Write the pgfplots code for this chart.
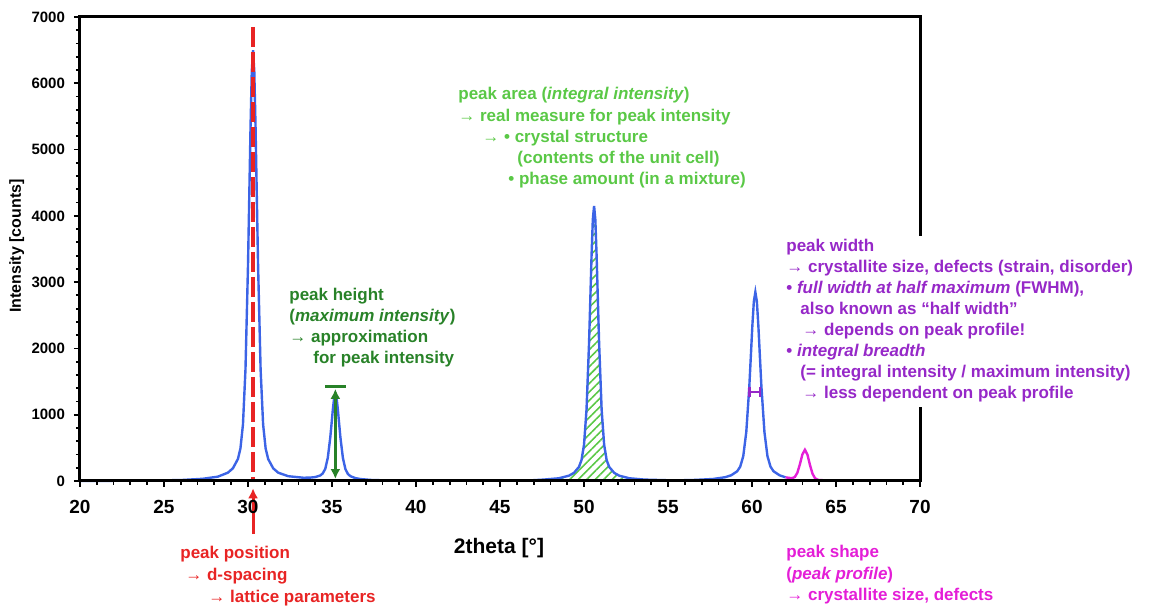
\documentclass[border=0pt]{standalone}
\usepackage{fontspec}
\setmainfont{Liberation Sans}
\usepackage{pgfplots}
\pgfplotsset{compat=1.18}
\usetikzlibrary{patterns.meta,arrows.meta}

\definecolor{cblue}{RGB}{60,100,230}
\definecolor{cred}{RGB}{232,36,36}
\definecolor{cdg}{RGB}{40,130,40}
\definecolor{clg}{RGB}{90,200,70}
\definecolor{cpu}{RGB}{150,40,200}
\definecolor{cmg}{RGB}{228,30,215}

\newcommand{\ft}{\bfseries\fontsize{8.5}{10}\selectfont}

\begin{document}
\begin{tikzpicture}
\begin{axis}[name=ax, scale only axis, width=420pt, height=232pt,
 xmin=20, xmax=70, ymin=0, ymax=7000,
 xtick={20,25,...,70}, ytick={0,1000,...,7000},
 minor x tick num=4, minor y tick num=4,
 tick align=outside, xtick pos=bottom, ytick pos=left,
 major tick length=3pt, minor tick length=2pt,
 every tick/.style={black, line width=0.9pt},
 axis line style={line width=1.5pt},
 /pgf/number format/assume math mode=true,
 /pgf/number format/1000 sep={},
 xticklabel style={font=\bfseries\fontsize{9.5}{10}\selectfont, yshift=-3pt},
 yticklabel style={font=\bfseries\fontsize{7.5}{9}\selectfont, xshift=-1pt},
 clip=false, axis on top]

% hatched integral area of the peak at 50.6
\addplot[draw=none, pattern={Lines[angle=45,distance=3pt,line width=0.8pt]}, pattern color=clg] coordinates {
(48.50,41) (49.10,80) (49.40,122) (49.70,212) (49.85,314) (50.00,544) (50.15,1075) (50.30,2075)
(50.375,2735) (50.45,3403) (50.525,3943) (50.60,4150) (50.675,3943) (50.75,3403) (50.825,2735)
(50.90,2075) (51.05,1075) (51.20,544) (51.35,314) (51.50,212) (51.80,122) (52.10,80) (52.70,41)
} \closedcycle;

% measured pattern
\addplot[cblue, line width=1.2pt] coordinates {
(20,0) (24,6) (26,14) (27.30,33) (28.20,65) (28.80,125) (29.10,191) (29.40,332) (29.55,491)
(29.70,852) (29.85,1684) (30.00,3250) (30.075,4284) (30.15,5330) (30.225,6175) (30.30,6500)
(30.375,6175) (30.45,5330) (30.525,4284) (30.60,3250) (30.75,1684) (30.90,852) (31.05,491)
(31.20,332) (31.50,191) (31.80,125) (32.40,72) (33.30,49)
(33.70,51) (34.00,59) (34.30,83) (34.45,114) (34.60,184) (34.75,350) (34.90,662) (34.975,868)
(35.05,1077) (35.125,1245) (35.20,1310) (35.275,1245) (35.35,1075) (35.425,866) (35.50,659)
(35.65,346) (35.80,178) (35.95,105) (36.10,72) (36.40,43) (36.70,29) (37.30,16) (38.20,9)
(40,5) (44,4) (46,7) (47,12)
(47.60,21) (48.50,41) (49.10,80) (49.40,122) (49.70,212) (49.85,314) (50.00,544) (50.15,1075)
(50.30,2075) (50.375,2735) (50.45,3403) (50.525,3943) (50.60,4150) (50.675,3943) (50.75,3403)
(50.825,2735) (50.90,2075) (51.05,1075) (51.20,544) (51.35,314) (51.50,212) (51.80,122)
(52.10,80) (52.70,41) (53.60,21) (55,11) (56,12)
(56.60,16) (57.68,30) (58.40,57) (58.76,86) (59.12,147) (59.30,217) (59.48,375) (59.66,740)
(59.84,1425) (59.93,1878) (60.02,2337) (60.11,2708) (60.20,2850) (60.29,2708) (60.38,2337)
(60.47,1878) (60.56,1425) (60.74,740) (60.92,375) (61.10,217) (61.28,147) (61.64,86)
(62.00,55)
};

% peak shape (magenta)
\addplot[cmg, line width=1.2pt] coordinates {
(62.00,55) (62.25,46) (62.40,43) (62.55,61) (62.70,124) (62.85,251) (63.00,401) (63.15,471)
(63.30,397) (63.45,242) (63.60,111) (63.75,43) (63.90,19) (64.05,13) (64.50,10)
};

% peak position
\addplot[cred, line width=2pt, dash pattern=on 10pt off 2.5pt] coordinates {(30.3,6850) (30.3,0)};
\draw[cred, line width=1.5pt, -{Latex[length=5pt,width=5pt]}] (axis cs:30.3,-800) -- (axis cs:30.3,-110);

% peak height
\addplot[cdg, line width=1.5pt] coordinates {(34.6,1420) (35.85,1420)};
\addplot[cdg, line width=1.5pt, {Latex[length=5pt,width=5pt]}-{Latex[length=5pt,width=5pt]}] coordinates {(35.2,1390) (35.2,30)};

% FWHM
\addplot[cpu, line width=1.2pt, {Bar[width=5pt]}-{Bar[width=5pt]}] coordinates {(59.78,1340) (60.56,1340)};
\end{axis}

\begin{scope}[shift={(ax.south west)}, xshift=-40pt, yshift=240.5pt, x=0.5pt, y=-0.5pt]
\fill[white] (782,236) rectangle (1150,407);

\node[anchor=base, inner sep=0, font=\bfseries\fontsize{10.5}{12}\selectfont] at (499,554) {2theta [°]};
\node[anchor=base, inner sep=0, rotate=90, font=\bfseries\fontsize{8}{9}\selectfont] at (21,246) {Intensity [counts]};

\begin{scope}[every node/.style={anchor=base west, inner sep=0, font=\ft}]
\node[text=clg] at (458,100) {peak area (\textit{integral intensity})};
\node[text=clg] at (458,122) {→ real measure for peak intensity};
\node[text=clg] at (482,143) {→ • crystal structure};
\node[text=clg] at (517,164) {(contents of the unit cell)};
\node[text=clg] at (508,185) {• phase amount (in a mixture)};

\node[text=cdg] at (289,301) {peak height};
\node[text=cdg] at (289,322) {(\textit{maximum intensity})};
\node[text=cdg] at (289,343) {→ approximation};
\node[text=cdg] at (313,364) {for peak intensity};

\node[text=cred] at (180,559) {peak position};
\node[text=cred] at (185,581) {→ d-spacing};
\node[text=cred] at (208,603) {→ lattice parameters};

\node[text=cpu] at (786,252) {peak width};
\node[text=cpu] at (786,273) {→ crystallite size, defects (strain, disorder)};
\node[text=cpu] at (786,294) {• \textit{full width at half maximum} (FWHM),};
\node[text=cpu] at (800,315) {also known as “half width”};
\node[text=cpu] at (802,336) {→ depends on peak profile!};
\node[text=cpu] at (786,357) {• \textit{integral breadth}};
\node[text=cpu] at (800,378) {(= integral intensity / maximum intensity)};
\node[text=cpu] at (802,399) {→ less dependent on peak profile};

\node[text=cmg] at (786,558) {peak shape};
\node[text=cmg] at (786,580) {(\textit{peak profile})};
\node[text=cmg] at (786,601) {→ crystallite size, defects};
\end{scope}

\pgfresetboundingbox
\path (0,0) rectangle (1151,608);
\end{scope}
\end{tikzpicture}
\end{document}
